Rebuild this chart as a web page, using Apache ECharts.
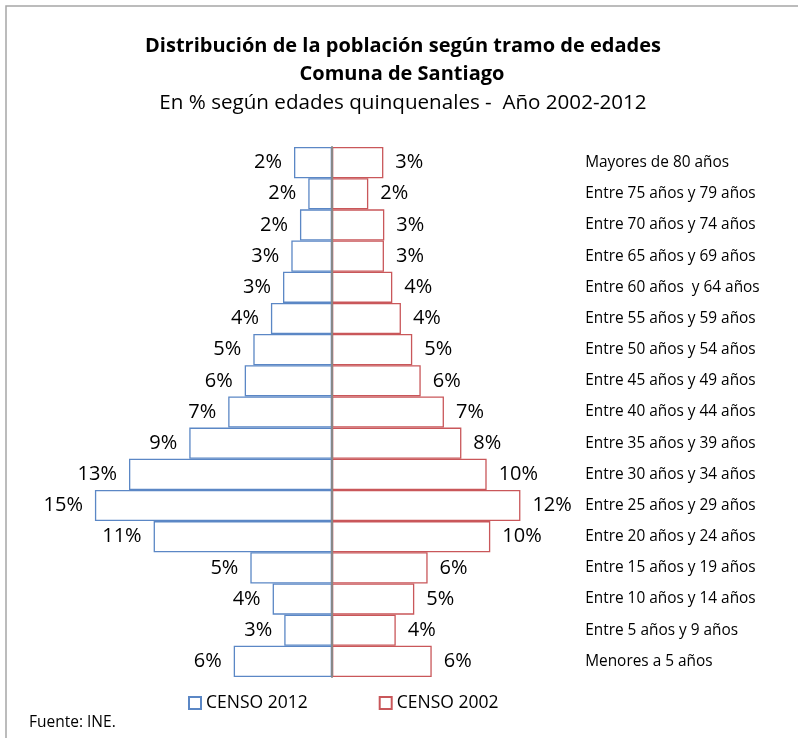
<!DOCTYPE html>
<html>
<head>
	<meta charset="utf-8">
	<title>Pirámide de población</title>
	<style>
		body { margin: 0; background: #fff; }
	</style>
</head>

<body>
	<div style="width:798px;height:738px;" id="chart1"></div>

	<script src="https://cdn.jsdelivr.net/npm/echarts@6/dist/echarts.min.js"></script>
	<script>

	// tramos de edad, de arriba hacia abajo
	var tramos = ['Mayores de 80 años', 'Entre 75 años y 79 años', 'Entre 70 años y 74 años',
		'Entre 65 años y 69 años', 'Entre 60 años  y 64 años', 'Entre 55 años y 59 años',
		'Entre 50 años y 54 años', 'Entre 45 años y 49 años', 'Entre 40 años y 44 años',
		'Entre 35 años y 39 años', 'Entre 30 años y 34 años', 'Entre 25 años y 29 años',
		'Entre 20 años y 24 años', 'Entre 15 años y 19 años', 'Entre 10 años y 14 años',
		'Entre 5 años y 9 años', 'Menores a 5 años'];
	var censo2012 = [2.42, 1.51, 2.04, 2.59, 3.12, 3.89, 5.01, 5.56, 6.61, 9.09, 12.93, 15.1, 11.36, 5.2, 3.78, 3.04, 6.26];
	var censo2002 = [3.27, 2.31, 3.33, 3.31, 3.84, 4.39, 5.11, 5.65, 7.13, 8.24, 9.85, 12.0, 10.08, 6.09, 5.24, 4.06, 6.35];

	var fuente = 'Open Sans';
	var azul = '#5b87c5', rojo = '#c9575a';

	function pct(p) {
		return Math.round(Math.abs(p.value)) + '%';
	}

	var myChart = echarts.init(document.getElementById('chart1'));

	var option = {
		backgroundColor: '#fff',
		animation: false,
		textStyle: { fontFamily: fuente },
		grid: {
			left: 80.8, width: 502.4, top: 147, height: 530,
			containLabel: false, outerBoundsMode: 'none'
		},
		legend: {
			data: ['CENSO 2012', 'CENSO 2002'],
			left: 183, top: 689,
			itemWidth: 12, itemHeight: 12, itemGap: 71,
			icon: 'rect',
			textStyle: { fontFamily: fuente, fontSize: 17.5, color: '#000' }
		},
		xAxis: {
			type: 'value', min: -16, max: 16,
			show: false
		},
		yAxis: [{
			type: 'category', data: tramos, inverse: true, z: 10,
			axisLine: { onZero: true, lineStyle: { color: '#888', width: 2 } },
			axisTick: { show: false },
			axisLabel: { show: false }
		}, {
			type: 'category', data: tramos, inverse: true, position: 'right',
			axisLine: { show: false, onZero: false },
			axisTick: { show: false },
			axisLabel: { margin: 2, fontFamily: fuente, fontSize: 15.4, color: '#000' }
		}],
		series: [{
			name: 'CENSO 2012', type: 'bar', stack: 'total',
			barCategoryGap: 0,
			data: censo2012.map(function (v) { return -v; }),
			itemStyle: { color: '#fff', borderColor: azul, borderWidth: 1.3 },
			label: { show: true, position: 'left', distance: 12, formatter: pct,
				fontFamily: fuente, fontSize: 20, color: '#000' }
		}, {
			name: 'CENSO 2002', type: 'bar', stack: 'total',
			barCategoryGap: 0,
			data: censo2002,
			itemStyle: { color: '#fff', borderColor: rojo, borderWidth: 1.3 },
			label: { show: true, position: 'right', distance: 12, formatter: pct,
				fontFamily: fuente, fontSize: 20, color: '#000' }
		}],
		graphic: [{
			type: 'rect', silent: true, z: -1,
			shape: { x: 6, y: 6, width: 820, height: 800 },
			style: { fill: null, stroke: '#a6a6a6', lineWidth: 1.5 }
		}, {
			type: 'text', x: 403, y: 46,
			style: { text: 'Distribución de la población según tramo de edades', textAlign: 'center',
				textVerticalAlign: 'middle', font: 'bold 20px "Open Sans"', fill: '#000' }
		}, {
			type: 'text', x: 402, y: 74,
			style: { text: 'Comuna de Santiago', textAlign: 'center',
				textVerticalAlign: 'middle', font: 'bold 20px "Open Sans"', fill: '#000' }
		}, {
			type: 'text', x: 403, y: 103,
			style: { text: 'En % según edades quinquenales -  Año 2002-2012', textAlign: 'center',
				textVerticalAlign: 'middle', font: '20.6px "Open Sans"', fill: '#000' }
		}, {
			type: 'text', x: 29, y: 723,
			style: { text: 'Fuente: INE.', textVerticalAlign: 'middle',
				font: '15.5px "Open Sans"', fill: '#000' }
		}]
	};

	myChart.setOption(option);

	</script>
</body>

</html>
